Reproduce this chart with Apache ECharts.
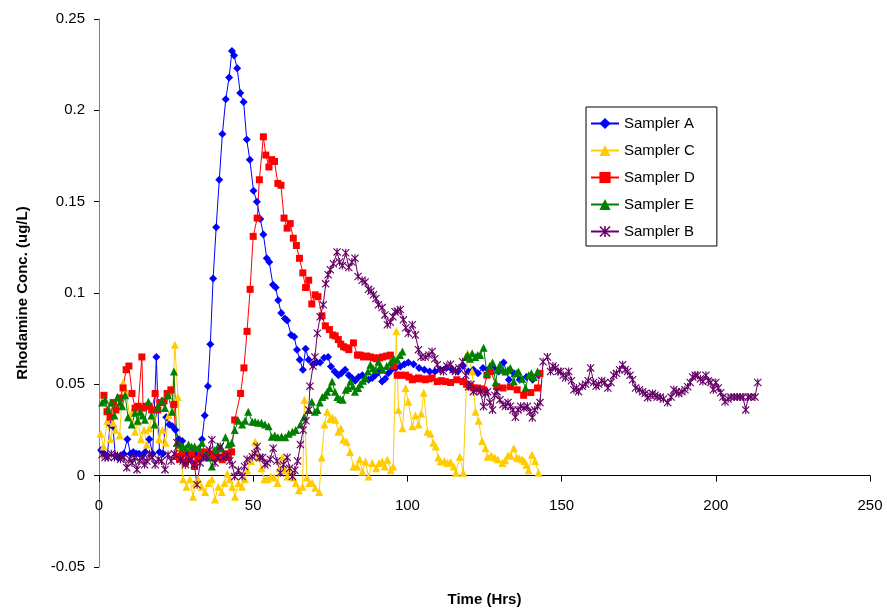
<!DOCTYPE html>
<html>
<head>
<meta charset="utf-8">
<script src="https://cdn.jsdelivr.net/npm/echarts@6/dist/echarts.min.js"></script>
<style>
  html, body { margin: 0; padding: 0; background: #fff; }
  #main { width: 887px; height: 612px; }
</style>
</head>
<body>
<div id="main"></div>
<script>
// [hour, concentration]
var samplerA = [[0.7,0.014],[1.7,0.012],[2.7,0.011],[3.6,0.028],[4.5,0.027],[5.3,0.011],[6.2,0.010],[7.1,0.011],[8.0,0.012],[9.2,0.020],[10.2,0.012],[11.1,0.013],[12.1,0.012],[13.0,0.012],[14.1,0.011],[15.0,0.013],[16.3,0.020],[17.4,0.012],[18.6,0.065],[19.6,0.013],[20.7,0.012],[21.8,0.032],[22.8,0.028],[23.8,0.027],[24.8,0.025],[25.9,0.020],[27.0,0.019],[28.1,0.012],[29.2,0.011],[30.3,0.012],[31.3,0.013],[32.4,0.011],[33.4,0.020],[34.3,0.033],[35.3,0.049],[36.1,0.072],[37.0,0.108],[38.0,0.136],[39.0,0.162],[40.0,0.187],[41.1,0.206],[42.2,0.218],[43.1,0.2325],[43.8,0.23],[44.8,0.223],[45.8,0.2095],[46.9,0.2045],[47.9,0.184],[48.9,0.173],[50.1,0.156],[51.2,0.150],[52.3,0.1405],[53.3,0.132],[54.4,0.119],[55.2,0.117],[56.4,0.1045],[57.3,0.103],[58.1,0.096],[59.1,0.089],[60.3,0.086],[61.0,0.085],[62.3,0.077],[63.3,0.076],[64.2,0.069],[65.1,0.0635],[66.1,0.058],[67.0,0.0695],[68.0,0.0635],[69.4,0.061],[70.5,0.062],[71.7,0.062],[73.0,0.0645],[74.3,0.065],[75.2,0.0597],[76.4,0.057],[77.6,0.055],[78.6,0.056],[79.8,0.058],[81.0,0.055],[82.0,0.0535],[83.1,0.052],[84.2,0.054],[85.4,0.055],[86.4,0.053],[87.4,0.0525],[88.6,0.0535],[89.6,0.055],[90.6,0.057],[91.8,0.0515],[92.8,0.053],[93.8,0.056],[94.8,0.058],[96.2,0.059],[97.7,0.0597],[99.0,0.061],[100.3,0.062],[102.0,0.061],[103.8,0.059],[105.5,0.058],[107.2,0.057],[108.9,0.057],[110.7,0.058],[112.6,0.059],[114.5,0.058],[116.3,0.057],[118.0,0.060],[119.8,0.057],[121.4,0.058],[122.9,0.056],[124.5,0.059],[126.2,0.058],[127.9,0.059],[129.6,0.057],[131.2,0.062],[132.9,0.0525],[134.5,0.056],[136.4,0.0525],[138.6,0.054],[140.6,0.0525],[142.5,0.055]];

var samplerC = [[0.5,0.023],[1.5,0.016],[2.7,0.030],[3.7,0.020],[4.6,0.029],[5.4,0.025],[6.7,0.022],[7.8,0.051],[8.9,0.046],[9.9,0.032],[10.8,0.035],[11.7,0.024],[12.7,0.0295],[13.6,0.020],[14.6,0.025],[15.5,0.017],[16.3,0.026],[17.3,0.033],[18.4,0.028],[19.5,0.020],[20.5,0.025],[21.6,0.018],[22.6,0.033],[23.6,0.035],[24.6,0.0717],[25.6,0.043],[26.4,0.015],[27.3,-0.002],[28.4,-0.006],[29.5,-0.002],[30.5,-0.0115],[31.3,-0.004],[32.2,-0.002],[33.3,-0.006],[34.4,-0.009],[35.5,-0.004],[36.6,-0.002],[37.6,-0.013],[38.7,-0.006],[39.8,-0.009],[40.7,-0.004],[41.6,0.001],[42.4,-0.002],[43.2,-0.006],[44.1,-0.0115],[45.2,-0.004],[46.3,-0.006],[47.3,-0.002],[48.1,0.003],[49.3,0.008],[50.6,0.0185],[51.6,0.010],[52.7,0.004],[53.6,-0.002],[54.6,-0.002],[55.8,-0.0005],[56.8,-0.001],[57.9,-0.004],[58.6,0.004],[59.5,0.010],[60.3,0.003],[61.1,-0.0005],[62.0,0.003],[63.0,-0.001],[63.8,-0.004],[64.8,-0.008],[66.0,-0.006],[66.6,0.0416],[67.4,-0.001],[68.2,-0.004],[69.1,-0.004],[70.1,-0.0066],[71.4,-0.009],[72.2,0.010],[73.1,0.028],[74.0,0.035],[74.9,0.031],[75.7,0.0317],[76.6,0.0306],[77.6,0.024],[78.4,0.026],[79.2,0.0197],[80.3,0.0186],[81.4,0.013],[82.5,0.005],[83.7,0.005],[84.5,0.009],[85.4,0.0022],[86.4,0.0077],[87.4,-0.0005],[88.6,0.007],[89.9,0.004],[90.8,0.007],[91.8,0.0077],[92.7,0.005],[93.5,0.0087],[94.6,0.003],[95.4,0.005],[96.4,0.079],[97.1,0.036],[98.4,0.026],[99.4,0.048],[100.3,0.0405],[101.6,0.027],[102.6,0.033],[103.6,0.028],[104.5,0.034],[105.3,0.0454],[106.5,0.024],[107.5,0.023],[108.4,0.018],[109.2,0.016],[110.0,0.010],[110.8,0.0077],[112.0,0.008],[113.0,0.007],[114.0,0.0075],[115.0,0.005],[115.7,0.0016],[117.0,0.0104],[118.1,0.0016],[119.5,0.067],[121.0,0.057],[122.1,0.035],[123.1,0.030],[124.2,0.019],[125.3,0.015],[126.0,0.0104],[127.2,0.011],[128.3,0.010],[129.3,0.009],[130.8,0.007],[131.7,0.0085],[132.6,0.011],[133.5,0.011],[134.5,0.015],[135.4,0.010],[136.2,0.0095],[137.2,0.009],[137.9,0.008],[138.6,0.006],[139.3,0.003],[140.4,0.0115],[141.4,0.008],[142.5,0.0016]];

var samplerD = [[1.6,0.044],[2.6,0.035],[3.6,0.032],[4.6,0.040],[5.5,0.036],[6.8,0.0425],[7.8,0.048],[8.8,0.058],[9.7,0.060],[10.7,0.045],[11.7,0.037],[12.7,0.038],[13.9,0.065],[14.3,0.037],[15.2,0.038],[16.1,0.038],[17.1,0.036],[18.2,0.045],[19.1,0.036],[20.2,0.040],[21.1,0.041],[22.1,0.045],[23.3,0.047],[24.3,0.039],[25.2,0.0105],[26.1,0.009],[27.0,0.012],[28.0,0.007],[29.0,0.009],[30.0,0.012],[31.0,0.005],[32.0,0.009],[33.0,0.011],[34.0,0.013],[35.1,0.0125],[36.0,0.012],[37.0,0.010],[38.0,0.013],[39.0,0.010],[40.0,0.0087],[41.0,0.012],[42.0,0.010],[43.0,0.013],[44.0,0.0305],[45.9,0.045],[47.0,0.059],[48.0,0.079],[49.0,0.102],[50.0,0.131],[51.3,0.141],[52.0,0.162],[53.3,0.1855],[54.1,0.1755],[55.1,0.169],[56.0,0.173],[56.9,0.172],[58.0,0.160],[59.0,0.159],[60.0,0.141],[61.0,0.1355],[62.0,0.138],[63.0,0.130],[64.0,0.126],[65.0,0.119],[66.1,0.111],[67.0,0.103],[68.0,0.107],[69.0,0.094],[70.1,0.099],[71.0,0.098],[72.3,0.0875],[73.4,0.082],[74.7,0.080],[75.8,0.077],[76.6,0.0765],[77.6,0.0745],[78.4,0.072],[79.3,0.0706],[80.2,0.070],[81.0,0.069],[82.5,0.0727],[83.8,0.066],[84.8,0.066],[85.8,0.065],[86.8,0.0655],[88.0,0.065],[89.0,0.0645],[90.0,0.064],[91.0,0.0645],[92.0,0.065],[93.3,0.0655],[94.5,0.066],[95.6,0.060],[96.7,0.055],[98.0,0.055],[99.4,0.055],[100.5,0.054],[101.6,0.0525],[102.6,0.053],[103.6,0.0535],[104.7,0.053],[105.8,0.0525],[107.0,0.053],[108.0,0.0535],[109.7,0.0515],[111.0,0.052],[112.3,0.0515],[114.0,0.051],[116.0,0.0525],[118.0,0.0515],[119.2,0.050],[120.4,0.0487],[121.5,0.048],[122.7,0.048],[124.0,0.0475],[124.7,0.047],[125.8,0.055],[127.0,0.057],[129.0,0.0487],[131.0,0.048],[133.4,0.0487],[135.6,0.047],[137.7,0.044],[140.0,0.0455],[142.2,0.048],[143.0,0.056]];

var samplerE = [[1.0,0.040],[2.0,0.0415],[3.0,0.036],[4.0,0.040],[5.0,0.033],[6.0,0.043],[6.9,0.040],[7.5,0.038],[8.5,0.044],[9.4,0.032],[10.6,0.028],[11.7,0.0345],[12.5,0.030],[13.3,0.035],[14.1,0.033],[14.9,0.0306],[16.0,0.0405],[17.0,0.033],[18.0,0.028],[19.0,0.0377],[20.4,0.041],[21.4,0.037],[22.4,0.044],[23.7,0.035],[24.3,0.057],[25.3,0.018],[26.2,0.017],[27.1,0.016],[28.0,0.015],[29.0,0.017],[30.0,0.016],[31.0,0.016],[32.2,0.015],[33.4,0.018],[34.5,0.012],[35.5,0.010],[36.6,0.005],[37.6,0.014],[38.6,0.016],[39.7,0.015],[41.0,0.021],[42.0,0.017],[43.0,0.018],[44.0,0.025],[45.2,0.030],[46.4,0.028],[47.4,0.030],[48.4,0.035],[49.7,0.0295],[50.6,0.0295],[51.6,0.029],[52.7,0.029],[53.8,0.028],[55.0,0.027],[56.0,0.0213],[57.0,0.022],[58.0,0.021],[59.2,0.0215],[60.4,0.021],[61.5,0.023],[62.7,0.024],[63.8,0.025],[65.3,0.028],[66.5,0.032],[68.0,0.036],[69.0,0.0405],[70.0,0.035],[70.8,0.036],[71.6,0.040],[72.4,0.043],[73.3,0.044],[74.0,0.046],[74.8,0.048],[75.6,0.0515],[76.5,0.046],[77.3,0.043],[78.2,0.042],[79.0,0.0415],[80.0,0.047],[80.8,0.048],[81.5,0.0515],[82.3,0.049],[83.0,0.046],[84.0,0.048],[84.7,0.050],[85.6,0.052],[86.4,0.0536],[87.2,0.057],[88.0,0.0607],[88.8,0.059],[89.6,0.058],[90.6,0.0624],[91.3,0.060],[92.0,0.058],[93.3,0.060],[94.5,0.062],[95.6,0.064],[96.7,0.0635],[97.6,0.066],[98.4,0.068],['-','-'],[119.0,0.065],[119.5,0.066],[120.3,0.064],[121.0,0.067],[122.0,0.065],[122.8,0.066],[123.6,0.066],[124.7,0.070],[125.8,0.056],[126.7,0.060],[127.6,0.062],[128.6,0.051],[129.3,0.058],[130.0,0.0607],[131.0,0.058],[131.8,0.057],[132.6,0.058],[133.4,0.059],[134.5,0.0515],[135.3,0.056],[136.0,0.057],[137.2,0.053],[138.3,0.048],[139.3,0.055],[140.2,0.056],[141.0,0.054],[142.2,0.057]];

var samplerB = [[1.0,0.0115],[2.0,0.010],[3.0,0.010],[4.0,0.012],[5.0,0.010],[6.0,0.011],[7.0,0.009],[8.0,0.010],[9.0,0.0044],[10.0,0.009],[10.7,0.007],[11.5,0.010],[12.3,0.0033],[13.2,0.008],[14.0,0.010],[14.8,0.006],[15.5,0.008],[16.4,0.012],[17.2,0.010],[18.2,0.006],[19.2,0.009],[20.3,0.008],[21.4,0.0033],[22.4,0.0115],[23.4,0.008],[24.4,0.012],[25.3,0.018],[26.4,0.009],[27.2,0.008],[28.0,0.006],[29.0,0.008],[30.0,0.009],[30.9,0.006],[31.8,-0.005],[32.8,0.007],[33.8,0.010],[35.0,0.010],[35.8,0.014],[36.6,0.0197],[37.6,0.007],[38.5,0.010],[39.3,0.016],[40.3,0.010],[41.5,0.011],[42.4,0.008],[43.2,0.006],[44.0,-0.0005],[45.2,0.003],[46.4,-0.0005],[47.2,0.005],[48.0,0.009],[49.7,0.0104],[50.5,0.012],[51.3,0.016],[52.2,0.010],[53.0,0.010],[53.8,0.006],[54.5,0.007],[55.5,0.009],[56.5,0.015],[57.7,0.008],[58.8,0.0016],[59.8,0.006],[61.0,0.010],[61.8,0.004],[62.7,-0.0005],[63.5,0.003],[64.4,0.008],[65.3,0.017],[66.2,0.025],[67.1,0.030],[68.0,0.036],[68.4,0.049],[69.4,0.060],[70.0,0.065],[70.8,0.078],[71.7,0.087],[72.7,0.0935],[73.5,0.105],[74.3,0.110],[75.0,0.1127],[76.0,0.116],[77.2,0.1225],[78.0,0.117],[78.9,0.115],[80.0,0.122],[81.0,0.114],[82.0,0.117],[83.0,0.119],[84.0,0.109],[85.3,0.107],[86.3,0.106],[87.4,0.102],[88.2,0.101],[89.0,0.099],[89.8,0.097],[90.6,0.0935],[91.8,0.092],[92.7,0.088],[93.5,0.0826],[94.5,0.084],[95.3,0.087],[96.0,0.0897],[96.8,0.090],[97.7,0.091],[98.7,0.0853],[99.5,0.081],[100.3,0.078],[101.6,0.0826],[102.6,0.077],[103.6,0.069],[104.4,0.065],[105.8,0.065],[107.0,0.066],[108.0,0.068],[108.9,0.064],[109.7,0.0607],[110.7,0.058],[111.7,0.057],[112.8,0.060],[114.0,0.061],[114.8,0.058],[115.6,0.057],[116.7,0.059],[117.9,0.0624],[118.9,0.055],[119.8,0.0487],[120.6,0.050],[121.4,0.046],[122.5,0.047],[123.7,0.046],[124.7,0.0378],[125.3,0.045],[126.0,0.046],[126.8,0.040],[127.6,0.036],[128.3,0.044],[129.0,0.046],[130.0,0.0415],[131.0,0.039],[131.8,0.038],[132.6,0.040],[133.4,0.038],[134.2,0.036],[135.0,0.032],[135.9,0.036],[136.7,0.038],[137.8,0.037],[138.9,0.038],[139.7,0.035],[140.5,0.0317],[141.3,0.036],[142.2,0.038],[143.0,0.040],[144.0,0.0624],[145.4,0.065],[146.4,0.057],[147.2,0.060],[148.0,0.059],[148.9,0.057],[149.7,0.057],[150.5,0.055],[151.3,0.0536],[152.3,0.057],[153.2,0.052],[154.0,0.047],[154.8,0.048],[155.5,0.046],[156.7,0.049],[157.8,0.050],[158.6,0.052],[159.4,0.059],[160.4,0.051],[161.2,0.049],[162.0,0.050],[163.0,0.052],[164.0,0.051],[165.0,0.048],[166.0,0.051],[166.9,0.055],[167.8,0.056],[168.8,0.058],[169.8,0.0607],[170.6,0.058],[171.4,0.057],[172.2,0.055],[173.0,0.0525],[174.0,0.048],[175.2,0.047],[176.3,0.046],[177.1,0.045],[177.9,0.0427],[178.7,0.044],[179.5,0.045],[180.3,0.044],[181.0,0.043],[182.0,0.043],[183.0,0.042],[184.4,0.040],[185.5,0.043],[186.4,0.047],[187.2,0.046],[188.0,0.045],[189.0,0.046],[190.0,0.047],[190.9,0.0487],[191.7,0.051],[192.5,0.054],[193.3,0.055],[194.0,0.055],[195.0,0.053],[195.8,0.0515],[196.8,0.055],[197.6,0.052],[198.4,0.051],[199.2,0.047],[200.0,0.051],[200.8,0.048],[201.6,0.0454],[202.3,0.043],[203.0,0.0405],[204.0,0.042],[204.9,0.043],[206.0,0.043],[207.0,0.043],[207.9,0.043],[208.8,0.043],[209.7,0.036],[210.5,0.043],[211.4,0.043],[212.7,0.043],[213.6,0.051]];

var seriesNames = ['Sampler A', 'Sampler C', 'Sampler D', 'Sampler E', 'Sampler B'];
var seriesData = [samplerA, samplerC, samplerD, samplerE, samplerB];
var seriesColors = ['#0000FF', '#FFCC00', '#FF0000', '#008000', '#660066'];

var starPath = 'path://M4.3,0H5.7V10H4.3Z M0,1L1,0L10,9L9,10Z M9,0L10,1L1,10L0,9Z';
var seriesSymbols = ['diamond', 'triangle', 'rect', 'triangle', starPath];
var symbolSizes = [8, 8, 7, 8, 8];

var font = 'Liberation Sans, Arial, sans-serif';

var myChart = echarts.init(document.getElementById('main'));

var series = [];
for (var i = 0; i < seriesNames.length; i++) {
	series.push({
		name: seriesNames[i],
		type: 'line',
		data: seriesData[i],
		symbol: seriesSymbols[i],
		symbolSize: symbolSizes[i],
		showAllSymbol: true,
		color: seriesColors[i],
		lineStyle: { width: 1, color: seriesColors[i] },
		itemStyle: { color: seriesColors[i] },
		animation: false
	});
}

var option = {
	backgroundColor: '#fff',
	animation: false,
	grid: {
		left: 99,
		right: 17,
		top: 19,
		bottom: 45,
		containLabel: false,
		outerBoundsMode: 'none'
	},
	legend: {
		orient: 'vertical',
		left: 586,
		top: 107,
		padding: [9, 22, 7, 4],
		itemGap: 12,
		itemWidth: 28,
		itemHeight: 14,
		borderColor: '#000',
		borderWidth: 1,
		backgroundColor: '#fff',
		textStyle: { fontFamily: font, fontSize: 15, color: '#000' },
		data: seriesNames
	},
	xAxis: {
		type: 'value',
		min: 0,
		max: 250,
		interval: 50,
		name: 'Time (Hrs)',
		nameLocation: 'middle',
		nameGap: 25,
		nameTextStyle: { fontFamily: font, fontSize: 15, fontWeight: 'bold', color: '#000' },
		axisLine: { onZero: true, lineStyle: { color: '#000', width: 1 } },
		axisTick: { show: true, length: 6, lineStyle: { color: '#000' } },
		axisLabel: { fontFamily: font, fontSize: 15, color: '#000', margin: -69 },
		splitLine: { show: false }
	},
	yAxis: {
		type: 'value',
		min: -0.05,
		max: 0.25,
		interval: 0.05,
		name: 'Rhodamine Conc. (ug/L)',
		nameLocation: 'middle',
		nameGap: 69,
		nameTextStyle: { fontFamily: font, fontSize: 15, fontWeight: 'bold', color: '#000' },
		axisLine: { show: true, lineStyle: { color: '#808080', width: 1 } },
		axisTick: { show: true, length: 5, lineStyle: { color: '#000' } },
		axisLabel: { fontFamily: font, fontSize: 15, color: '#000', margin: 14 },
		splitLine: { show: false }
	},
	series: series
};
myChart.setOption(option);
</script>
</body>
</html>
